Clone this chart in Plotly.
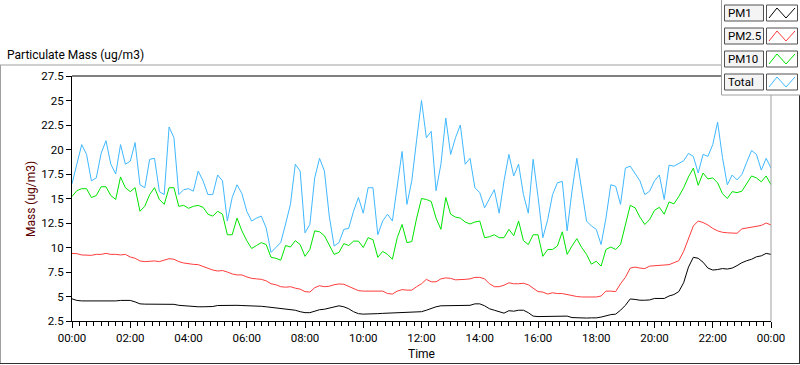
import plotly.graph_objects as go

# ---------------- data (minutes since 00:00, 10-min steps) ----------------
minutes = list(range(0, 1441, 10))

total = [16.5, 18.5, 20.5, 19.5, 16.8, 17.1, 19.6, 20.9, 18.5, 17.5, 20.5, 18.5, 18.8, 20.7, 16.4, 16.1, 19.0, 19.1, 15.7, 15.4, 22.3, 21.2, 15.4, 15.9,
         16.0, 15.75, 17.8, 16.8, 15.4, 15.4, 17.4, 16.8, 12.7, 15.1, 16.4, 15.5, 13.7, 12.7, 13.0, 13.2, 12.0, 9.5, 10.0, 10.5, 12.4, 14.4, 18.5, 17.8,
         11.5, 12.35, 17.1, 19.1, 17.8, 13.2, 10.15, 10.5, 11.85, 11.95, 13.7, 15.1, 13.5, 16.1, 16.1, 11.3, 12.7, 13.4, 12.7, 16.4, 19.8, 14.4, 16.8, 21.0,
         25.0, 21.2, 21.85, 15.8, 18.5, 23.2, 19.5, 21.2, 22.5, 18.5, 19.1, 16.1, 15.6, 14.05, 14.9, 15.9, 13.5, 16.8, 19.5, 17.3, 18.5, 15.4, 13.5, 19.0,
         15.2, 11.0, 12.85, 15.4, 16.6, 16.75, 11.7, 15.75, 19.1, 15.75, 12.7, 12.2, 11.85, 10.3, 13.0, 16.4, 16.25, 14.4, 18.1, 18.3, 17.6, 16.8, 15.4, 15.75,
         16.8, 17.4, 14.9, 18.4, 18.3, 18.6, 18.85, 19.6, 19.3, 17.6, 19.5, 19.3, 20.5, 22.8, 19.2, 16.4, 17.4, 16.9, 17.45, 18.7, 19.9, 19.5, 17.9, 19.1, 18.1]

pm10 = [15.2, 15.8, 16.0, 16.0, 15.1, 15.3, 16.2, 16.2, 15.3, 14.9, 17.2, 16.1, 15.7, 16.1, 13.7, 14.2, 15.4, 16.1, 14.9, 14.4, 16.1, 16.1, 14.2, 14.3,
        14.0, 14.2, 14.3, 14.1, 13.4, 13.2, 13.7, 13.4, 11.3, 11.3, 13.0, 11.7, 10.7, 9.9, 10.2, 10.5, 10.3, 9.0, 8.9, 8.7, 10.2, 10.05, 10.7, 10.3,
        9.1, 9.8, 11.7, 11.6, 11.2, 10.25, 9.3, 9.5, 10.4, 10.2, 10.65, 10.65, 10.0, 11.0, 10.8, 9.0, 9.6, 9.3, 8.8, 11.0, 12.35, 10.5, 10.6, 13.0,
        15.0, 14.9, 14.7, 13.0, 11.85, 15.1, 13.4, 13.1, 13.0, 12.6, 12.4, 12.6, 12.7, 11.0, 11.1, 11.3, 11.0, 11.0, 11.85, 11.2, 12.7, 10.7, 10.3, 11.3,
        11.3, 9.1, 9.8, 9.8, 10.15, 11.6, 9.3, 10.15, 10.9, 10.0, 9.3, 8.3, 8.6, 8.1, 9.8, 10.05, 9.8, 10.3, 12.2, 14.3, 14.05, 13.1, 12.35, 12.85,
        13.8, 14.1, 13.4, 14.65, 14.45, 15.2, 16.1, 17.2, 18.1, 16.35, 17.6, 17.0, 17.1, 16.6, 15.5, 15.0, 15.7, 15.6, 15.75, 16.6, 17.3, 17.1, 16.7, 17.3, 16.4]

pm25 = [9.4, 9.37, 9.24, 9.2, 9.2, 9.3, 9.3, 9.4, 9.3, 9.3, 9.24, 9.3, 9.03, 8.9, 8.63, 8.56, 8.63, 8.63, 8.56, 8.7, 8.86, 8.8, 8.56, 8.42,
        8.33, 8.28, 8.25, 8.05, 7.85, 7.7, 7.6, 7.65, 7.5, 7.3, 7.2, 7.2, 7.0, 6.85, 6.8, 6.75, 6.6, 6.3, 6.2, 6.0, 5.95, 6.0, 5.85, 5.75,
        5.5, 5.45, 5.9, 6.1, 6.0, 6.05, 6.2, 6.28, 6.25, 6.05, 5.85, 5.6, 5.55, 5.55, 5.5, 5.55, 5.55, 5.3, 5.25, 5.55, 5.7, 5.65, 5.65, 6.0,
        6.3, 6.75, 6.5, 6.5, 6.8, 6.9, 6.85, 6.7, 6.7, 6.75, 6.8, 6.95, 6.95, 6.8, 6.3, 6.0, 6.0, 6.15, 6.4, 6.3, 6.3, 6.35, 6.2, 5.85,
        5.5, 5.45, 5.25, 5.38, 5.3, 5.3, 5.2, 5.05, 5.0, 4.95, 4.95, 4.95, 4.95, 5.05, 5.55, 5.55, 5.5, 6.3, 6.95, 7.9, 8.0, 7.9, 7.85, 8.1,
        8.12, 8.15, 8.2, 8.25, 8.45, 8.65, 9.6, 10.8, 12.2, 12.7, 12.55, 12.3, 11.95, 11.7, 11.55, 11.5, 11.45, 11.45, 11.9, 12.0, 12.05, 12.2, 12.25, 12.5, 12.3]

pm1 = [4.76, 4.6, 4.55, 4.55, 4.5, 4.52, 4.5, 4.5, 4.5, 4.55, 4.6, 4.62, 4.6, 4.45, 4.25, 4.22, 4.22, 4.22, 4.2, 4.2, 4.2, 4.2, 4.1, 4.05,
       4.05, 4.0, 3.95, 3.95, 3.95, 3.98, 4.08, 4.1, 4.1, 4.1, 4.1, 4.08, 4.07, 4.05, 4.0, 4.0, 3.95, 3.9, 3.85, 3.8, 3.75, 3.7, 3.6, 3.45,
       3.35, 3.35, 3.5, 3.65, 3.7, 3.8, 3.95, 4.05, 3.95, 3.75, 3.45, 3.25, 3.2, 3.2, 3.22, 3.25, 3.28, 3.3, 3.3, 3.35, 3.35, 3.35, 3.38, 3.38,
       3.45, 3.6, 3.8, 3.95, 4.05, 4.05, 4.05, 4.05, 4.1, 4.1, 4.1, 4.25, 4.25, 4.05, 3.75, 3.6, 3.45, 3.3, 3.55, 3.5, 3.6, 3.6, 3.35, 3.0,
       2.95, 2.95, 2.95, 2.95, 2.97, 2.97, 3.0, 2.85, 2.82, 2.8, 2.8, 2.82, 2.82, 2.9, 3.05, 3.15, 3.2, 3.6, 4.1, 4.75, 4.7, 4.62, 4.62, 4.65,
       4.8, 4.8, 4.8, 5.05, 5.2, 5.5, 6.4, 8.0, 9.0, 8.9, 8.5, 7.9, 7.7, 7.75, 7.85, 7.8, 7.9, 8.15, 8.45, 8.65, 8.8, 9.05, 9.15, 9.4, 9.3]

series_names = ["PM1", "PM2.5", "PM10", "Total"]
series_colors = ["#000000", "#ff3c3c", "#00e400", "#40b8ff"]
series_values = [pm1, pm25, pm10, total]

x_tick_vals = list(range(0, 1441, 120))
x_tick_labels = ["00:00", "02:00", "04:00", "06:00", "08:00", "10:00", "12:00",
                 "14:00", "16:00", "18:00", "20:00", "22:00", "00:00"]
y_tick_vals = [2.5, 5, 7.5, 10, 12.5, 15, 17.5, 20, 22.5, 25, 27.5]
y_tick_labels = ["2.5", "5", "7.5", "10", "12.5", "15", "17.5", "20", "22.5", "25", "27.5"]

# ---------------- layout geometry (pixels) ----------------
W, H = 800, 365
L, R, T, B = 72, 771, 76, 321
FONT = "Roboto"


def px(xp):
    return (xp - L) / (R - L)


def py(yp):
    return (B - yp) / (B - T)


fig = go.Figure()
for name, col, vals in zip(series_names, series_colors, series_values):
    fig.add_trace(go.Scatter(x=minutes, y=vals, mode="lines", name=name,
                             line=dict(color=col, width=1), showlegend=False,
                             hoverinfo="skip"))

shapes = []
annotations = []

# outer frame below title
shapes.append(dict(type="line", xref="paper", yref="paper", x0=px(0), x1=px(722), y0=py(65), y1=py(65),
                   line=dict(color="#a0a0a0", width=1)))
shapes.append(dict(type="line", xref="paper", yref="paper", x0=px(0.5), x1=px(0.5), y0=py(65), y1=py(364),
                   line=dict(color="#a0a0a0", width=1)))
shapes.append(dict(type="line", xref="paper", yref="paper", x0=px(0), x1=px(800), y0=py(363.5), y1=py(363.5),
                   line=dict(color="#303030", width=1)))
shapes.append(dict(type="line", xref="paper", yref="paper", x0=px(799.5), x1=px(799.5), y0=py(95), y1=py(364),
                   line=dict(color="#303030", width=1)))
# top frame (black) and right frame (grey) of the plot area
shapes.append(dict(type="line", xref="paper", yref="paper", x0=0, x1=1, y0=1, y1=1,
                   line=dict(color="#000000", width=1)))
shapes.append(dict(type="line", xref="paper", yref="paper", x0=1, x1=1, y0=0, y1=1,
                   line=dict(color="#a0a0a0", width=1)))

# legend panel
shapes.append(dict(type="rect", xref="paper", yref="paper", x0=px(721.5), x1=px(800.5), y0=py(95), y1=py(-1),
                   line=dict(color="#a0a0a0", width=1), fillcolor="#ffffff", layer="above"))
row_c = [13, 36, 59, 82]
for name, col, c in zip(series_names, series_colors, row_c):
    shapes.append(dict(type="rect", xref="paper", yref="paper", x0=px(724.5), x1=px(763.5),
                       y0=py(c + 8), y1=py(c - 8), line=dict(color="#505050", width=1),
                       fillcolor="#f4f4f4", layer="above"))
    shapes.append(dict(type="rect", xref="paper", yref="paper", x0=px(766.5), x1=px(797.5),
                       y0=py(c + 8), y1=py(c - 8), line=dict(color="#505050", width=1),
                       fillcolor="#ffffff", layer="above"))
    pts = [(769, c + 5), (777, c - 5), (786, c + 5), (795, c - 5)]
    path = "M " + " L ".join(f"{px(a):.5f},{py(b):.5f}" for a, b in pts)
    shapes.append(dict(type="path", xref="paper", yref="paper", path=path,
                       line=dict(color=col, width=1), layer="above"))
    annotations.append(dict(xref="paper", yref="paper", x=px(726), y=py(c), text=name,
                            showarrow=False, xanchor="left", yanchor="middle",
                            font=dict(family=FONT, size=11.5, color="#000000")))

# chart title
annotations.append(dict(xref="paper", yref="paper", x=px(5), y=py(55), text="Particulate Mass (ug/m3)",
                        showarrow=False, xanchor="left", yanchor="middle",
                        font=dict(family=FONT, size=12, color="#000000")))
# axis titles
annotations.append(dict(xref="paper", yref="paper", x=px(421), y=py(354), text="Time",
                        showarrow=False, xanchor="center", yanchor="middle",
                        font=dict(family=FONT, size=12, color="#000000")))
annotations.append(dict(xref="paper", yref="paper", x=px(31), y=py(199), text="Mass (ug/m3)",
                        showarrow=False, xanchor="center", yanchor="middle", textangle=-90,
                        font=dict(family=FONT, size=12, color="#5a0000")))

fig.update_layout(
    width=W, height=H,
    margin=dict(l=L, r=W - R, t=T, b=H - B),
    paper_bgcolor="#ffffff", plot_bgcolor="#ffffff",
    font=dict(family=FONT, size=12, color="#000000"),
    shapes=shapes, annotations=annotations,
    showlegend=False,
)
fig.update_xaxes(range=[0, 1440], tickmode="array", tickvals=x_tick_vals, ticktext=x_tick_labels,
                 showgrid=False, zeroline=False, showline=True, linecolor="#000000", linewidth=1,
                 ticks="outside", ticklen=6, tickcolor="#000000", tickwidth=1,
                 tickfont=dict(family=FONT, size=11.5, color="#000000"),
                 minor=dict(tickmode="linear", tick0=0, dtick=15, ticks="outside", ticklen=4,
                            tickcolor="#000000", tickwidth=1, showgrid=False))
fig.update_yaxes(range=[2.5, 27.5], tickmode="array", tickvals=y_tick_vals, ticktext=y_tick_labels,
                 showgrid=False, zeroline=False, showline=True, linecolor="#000000", linewidth=1,
                 ticks="outside", ticklen=5, tickcolor="#000000", tickwidth=1,
                 tickfont=dict(family=FONT, size=11.5, color="#000000"))

fig.write_html("out.html",
               config={"displayModeBar": False, "staticPlot": True},
               post_script="document.body.style.margin='0';document.body.style.overflow='hidden';")
